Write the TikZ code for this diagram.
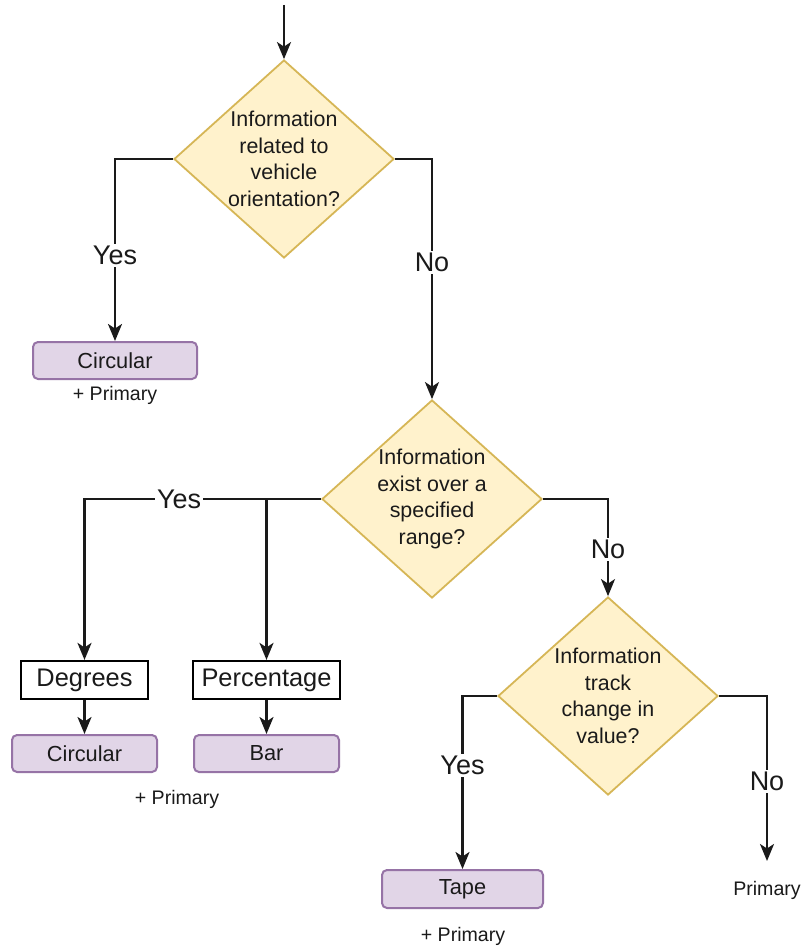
\documentclass[tikz,border=0pt]{standalone}
\usepackage{fontspec}
\setmainfont{Liberation Sans}
\usetikzlibrary{shapes.geometric,arrows.meta}
\definecolor{decfill}{HTML}{FFF2CC}
\definecolor{decline}{HTML}{D6B656}
\definecolor{outfill}{HTML}{E1D5E7}
\definecolor{outline}{HTML}{9673A6}
\definecolor{ink}{HTML}{1A1A1A}
\tikzset{
  decision/.style={diamond, draw=decline, fill=decfill, line width=1.8pt,
    minimum width=220pt, minimum height=198pt, inner sep=0pt},
  dtext/.style={align=center, text=ink, font=\fontsize{21.4}{26.5}\selectfont, inner sep=0pt},
  outbox/.style={rectangle, rounded corners=5pt, draw=outline, fill=outfill, text=ink,
    line width=2pt, font=\fontsize{21.8}{24}\selectfont, inner sep=0pt},
  unitbox/.style={rectangle, draw=black, fill=white, line width=2.2pt, text=ink,
    font=\fontsize{25.4}{28}\selectfont, inner sep=0pt},
  note/.style={text=ink, font=\fontsize{19.6}{23}\selectfont, inner sep=0pt},
  branch/.style={fill=white, text=ink, font=\fontsize{27}{30}\selectfont, inner sep=2pt},
  arr/.style={draw=ink, line width=2.2pt,
    -{Stealth[length=17pt, width=14pt, inset=4.5pt]}}
}
\begin{document}
\begin{tikzpicture}[x=1pt, y=-1pt]
\useasboundingbox[fill=white] (0,0) rectangle (802,949);

% decisions
\node[decision] (d1) at (284,159) {};
\node[dtext] (d1t) at (d1.center) {Information\\related to\\vehicle\\orientation?};
\node[decision] (d2) at (432,499) {};
\node[dtext] (d2t) at (d2.center) {Information\\exist over a\\specified\\range?};
\node[decision] (d3) at (608,696) {};
\node[dtext] (d3t) at (d3.center) {Information\\track\\change in\\value?};

% outcomes
\node[outbox, minimum width=164pt, minimum height=37pt] (c1) at (115,360.5) {Circular};
\node[note] (p1) at (115,395) {+ Primary};

\node[unitbox, minimum width=127pt, minimum height=38pt] (deg) at (84.5,680) {Degrees};
\node[unitbox, minimum width=147pt, minimum height=38pt] (perc) at (266.5,680) {Percentage};
\node[outbox, minimum width=145pt, minimum height=37pt] (c2) at (84.5,753.5) {Circular};
\node[outbox, minimum width=145pt, minimum height=37pt] (bar) at (266.5,753.5) {Bar};
\node[note] (p2) at (177,799) {+ Primary};

\node[outbox, minimum width=161pt, minimum height=38pt] (tape) at (462.5,889) {Tape};
\node[note] (p3) at (463,936) {+ Primary};

\coordinate (noend) at (767,861);
\node[note] (p4) at (767,890) {Primary};

\coordinate (start) at (284,5);

% connectors
\draw[arr] (start) -- (d1.north);
\draw[arr] (d1.west) -| node[branch, pos=0.765] {Yes} (c1.north);
\draw[arr] (d1.east) -| node[branch, pos=0.715] {No} (d2.north);
\draw[arr] (d2.west) -| (perc.north);
\draw[arr] (d2.west) -| node[branch, pos=0.3] {Yes} (deg.north);
\draw[arr] (deg.south) -- (c2.north);
\draw[arr] (perc.south) -- (bar.north);
\draw[arr] (d2.east) -| node[branch, pos=0.76] {No} (d3.north);
\draw[arr] (d3.west) -| node[branch, pos=0.70] {Yes} (tape.north);
\draw[arr] (d3.east) -| node[branch, pos=0.76] {No} (noend);
\end{tikzpicture}
\end{document}
